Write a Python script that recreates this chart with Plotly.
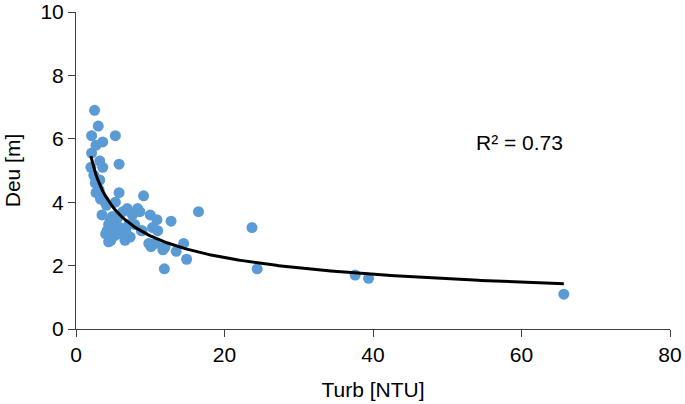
import numpy as np
import plotly.graph_objects as go

# Turbidity [NTU] and Deu [m]
turb = [2.5, 3.0, 2.1, 5.3, 3.6, 2.7, 2.1, 5.8, 3.2, 3.6, 2.0,
        2.4, 2.6, 3.2, 3.1, 5.8, 2.7, 3.3, 3.8, 5.3, 9.1, 4.1, 6.9, 8.3,
        3.5, 4.9, 10.0, 16.5, 10.9, 12.8, 4.4, 7.1, 10.3, 4.2, 6.7, 8.9,
        4.7, 6.6, 4.4, 9.8, 10.7, 14.5, 12.0, 11.0, 8.8, 10.1, 11.9, 11.7,
        13.5, 14.9, 11.9, 23.7, 24.4, 37.6, 39.4, 65.7,
        5.0, 5.6, 6.0, 7.6, 5.4, 4.6, 6.3, 7.9, 5.2, 4.0, 5.9, 7.3, 8.6]
deu = [6.9, 6.4, 6.1, 6.1, 5.9, 5.8, 5.55, 5.2, 5.3, 5.1, 5.1,
       4.85, 4.6, 4.7, 4.4, 4.3, 4.3, 4.1, 4.05, 4.0, 4.2, 3.9, 3.8, 3.8,
       3.6, 3.55, 3.6, 3.7, 3.45, 3.4, 3.3, 3.3, 3.2, 3.1, 3.1, 3.1,
       2.8, 2.8, 2.75, 2.7, 2.7, 2.7, 2.6, 3.1, 3.1, 2.6, 2.55, 2.5,
       2.45, 2.2, 1.9, 3.2, 1.9, 1.7, 1.6, 1.1,
       3.4, 3.5, 3.0, 3.6, 3.2, 3.4, 3.7, 3.3, 2.95, 3.0, 3.2, 2.9, 3.7]
r2_label = "R² = 0.73"

# power trendline fitted to the data (log-log least squares)
lx, ly = np.log(turb), np.log(deu)
b, ln_a = np.polyfit(lx, ly, 1)
xs = np.linspace(min(turb), max(turb), 200)
ys = np.exp(ln_a) * xs ** b

font = "Liberation Sans, Arial, sans-serif"
fig = go.Figure()
fig.add_trace(go.Scatter(x=turb, y=deu, mode="markers",
                         marker=dict(color="#5B9BD5", size=11, line=dict(width=0)),
                         showlegend=False))
fig.add_trace(go.Scatter(x=xs, y=ys, mode="lines",
                         line=dict(color="black", width=3), showlegend=False))
fig.add_annotation(x=59.7, y=5.87, text=r2_label, showarrow=False,
                   font=dict(size=21, color="#000", family=font))
axis_common = dict(showgrid=False, zeroline=False, showline=True, linecolor="#404040",
                   linewidth=1, ticks="outside", ticklen=7, tickcolor="#404040",
                   automargin=False,
                   tickfont=dict(size=21, color="#000", family=font))
fig.update_xaxes(range=[0, 80], dtick=20, title=dict(text="Turb [NTU]", standoff=17,
                 font=dict(size=21, color="#000", family=font)), **axis_common)
fig.update_yaxes(range=[0, 10], dtick=2, title=dict(text="Deu [m]", standoff=14,
                 font=dict(size=21, color="#000", family=font)), **axis_common)
fig.update_layout(width=685, height=404, margin=dict(l=76, r=15, t=12, b=75),
                  plot_bgcolor="white", paper_bgcolor="white")
fig.write_html("out.html", config={"displayModeBar": False},
               post_script="document.body.style.margin='0';document.body.style.overflow='hidden';")
